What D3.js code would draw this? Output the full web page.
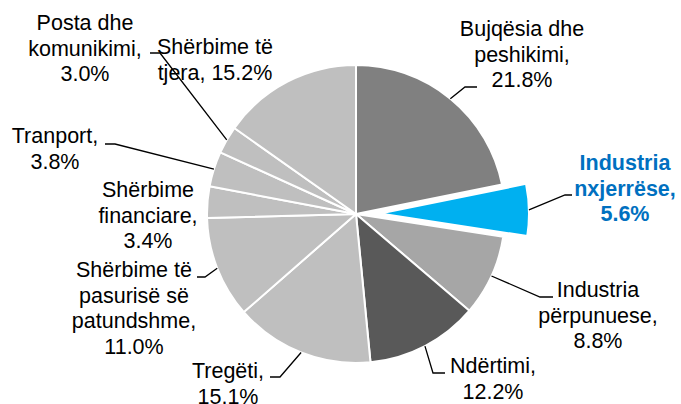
<!DOCTYPE html>
<html>
<head>
<meta charset="utf-8">
<script src="https://cdn.jsdelivr.net/npm/d3@7"></script>
<style>
  body { margin: 0; background: #fff; }
  svg text { font-family: "Liberation Sans", Arial, sans-serif; font-size: 21.5px; fill: #000; }
</style>
</head>
<body>
<div id="pie-chart"></div>
<script>
// sectors, clockwise from 12 o'clock
let categories = ["Bujqësia dhe peshikimi", "Industria nxjerrëse", "Industria përpunuese", "Ndërtimi",
    "Tregëti", "Shërbime të pasurisë së patundshme", "Shërbime financiare", "Tranport",
    "Posta dhe komunikimi", "Shërbime të tjera"];
let values = [21.8, 5.6, 8.8, 12.2, 15.1, 11.0, 3.4, 3.8, 3.0, 15.2];
let labelLines = [
    ["Bujqësia dhe", "peshikimi,", "21.8%"],
    ["Industria", "nxjerrëse,", "5.6%"],
    ["Industria", "përpunuese,", "8.8%"],
    ["Ndërtimi,", "12.2%"],
    ["Tregëti,", "15.1%"],
    ["Shërbime të", "pasurisë së", "patundshme,", "11.0%"],
    ["Shërbime", "financiare,", "3.4%"],
    ["Tranport,", "3.8%"],
    ["Posta dhe", "komunikimi,", "3.0%"],
    ["Shërbime të", "tjera, 15.2%"]
];

let colors = ["#808080", "#00b0f0", "#a6a6a6", "#595959", "#bfbfbf",
    "#bfbfbf", "#bfbfbf", "#bfbfbf", "#bfbfbf", "#bfbfbf"];
let highlight = 1;   // exploded slice

// label placement: text centre x, first baseline y, leader elbow + end (null = no leader)
let labelPos = [
    {x: 522, y: 36, elbow: [465, 87], end: 477},
    {x: 625, y: 170, elbow: [565, 195], end: 572},
    {x: 598, y: 297, elbow: [540, 297], end: 553},
    {x: 493, y: 373, elbow: [433, 373], end: 445},
    {x: 228, y: 378, elbow: [280, 377], end: 270},
    {x: 134, y: 277, elbow: [205, 277], end: 197},
    {x: 148, y: 197, elbow: null},
    {x: 55, y: 143, elbow: [115, 144], end: 105},
    {x: 85, y: 30, elbow: [160, 53], end: 150},
    {x: 215, y: 54, elbow: null}
];

let width = 681, height = 404,
    cx = 356, cy = 214, radius = 149, explode = 24, lineH = 25.5;

let svg = d3.select("#pie-chart")
    .append("svg")
    .attr("width", width)
    .attr("height", height);

let pie = d3.pie().sort(null).value(function (d) { return d; });
let arcs = pie(values);
let arc = d3.arc().innerRadius(0).outerRadius(radius);

function shift(d, i) {
    if (i !== highlight) return [0, 0];
    let a = (d.startAngle + d.endAngle) / 2;
    return [explode * Math.sin(a), -explode * Math.cos(a)];
}

let g = svg.append("g")
    .attr("transform", "translate(" + cx + "," + cy + ")");

g.selectAll("path")
    .data(arcs)
    .enter()
    .append("path")
    .attr("d", arc)
    .attr("transform", function (d, i) {
        let s = shift(d, i);
        return "translate(" + s[0] + "," + s[1] + ")";
    })
    .style("fill", function (d, i) { return colors[i]; })
    .style("stroke", "#fff")
    .style("stroke-width", 2)
    .style("stroke-linejoin", "round");

// leader lines
arcs.forEach(function (d, i) {
    let p = labelPos[i];
    if (!p.elbow) return;
    let a = (d.startAngle + d.endAngle) / 2;
    let s = shift(d, i);
    let x0 = cx + s[0] + radius * Math.sin(a),
        y0 = cy + s[1] - radius * Math.cos(a);
    svg.append("polyline")
        .attr("points", [[x0, y0], p.elbow, [p.end, p.elbow[1]]].map(function (q) { return q.join(","); }).join(" "))
        .style("fill", "none")
        .style("stroke", "#000")
        .style("stroke-width", 1.3);
});

// labels
labelLines.forEach(function (lines, i) {
    let p = labelPos[i];
    let t = svg.append("text")
        .attr("text-anchor", "middle")
        .attr("x", p.x)
        .attr("y", p.y);
    if (i === highlight) {
        t.style("fill", "#0070c0").style("font-weight", "bold");
    }
    t.selectAll("tspan")
        .data(lines)
        .enter()
        .append("tspan")
        .attr("x", p.x)
        .attr("y", function (l, j) { return p.y + j * lineH; })
        .text(function (l) { return l; });
});
</script>
</body>
</html>
